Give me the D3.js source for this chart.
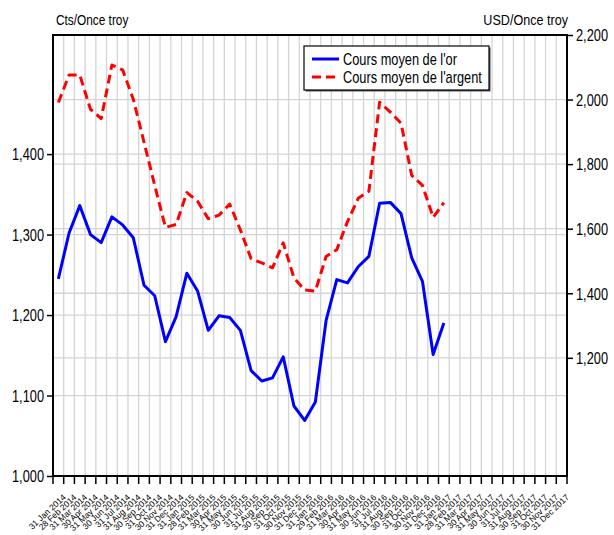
<!DOCTYPE html>
<html>
<head>
<meta charset="utf-8">
<script src="https://cdn.jsdelivr.net/npm/d3@7"></script>
<style>
  body { margin: 0; background: #fff; }
  text { font-family: "Liberation Sans", Arial, sans-serif; fill: #000; }
</style>
</head>
<body>
<script>
const months = [
  "31 Jan 2014","28 Feb 2014","31 Mar 2014","30 Apr 2014","31 May 2014","30 Jun 2014",
  "31 Jul 2014","31 Aug 2014","30 Sep 2014","31 Oct 2014","30 Nov 2014","31 Dec 2014",
  "31 Jan 2015","28 Feb 2015","31 Mar 2015","30 Apr 2015","31 May 2015","30 Jun 2015",
  "31 Jul 2015","31 Aug 2015","30 Sep 2015","31 Oct 2015","30 Nov 2015","31 Dec 2015",
  "31 Jan 2016","29 Feb 2016","31 Mar 2016","30 Apr 2016","31 May 2016","30 Jun 2016",
  "31 Jul 2016","31 Aug 2016","30 Sep 2016","31 Oct 2016","30 Nov 2016","31 Dec 2016",
  "31 Jan 2017","28 Feb 2017","31 Mar 2017","30 Apr 2017","31 May 2017","30 Jun 2017",
  "31 Jul 2017","31 Aug 2017","30 Sep 2017","31 Oct 2017","30 Nov 2017","31 Dec 2017"
];

// cours moyen de l'or (axe gauche)
const gold = [1245,1302,1336,1300,1290,1322,1312,1296,1237,1224,1167,1198,
  1252,1230,1181,1199,1197,1181,1131,1118,1122,1148,1087,1069,
  1092,1193,1244,1240,1260,1273,1339,1340,1326,1271,1242,1151,1190];

// cours moyen de l'argent (axe droit)
const silver = [1991,2076,2076,1970,1941,2107,2092,2001,1868,1734,1604,1613,
  1712,1685,1631,1642,1676,1596,1507,1494,1479,1556,1448,1410,
  1407,1514,1535,1622,1694,1716,1992,1961,1927,1765,1734,1635,1681];

const leftTicks = [1000, 1100, 1200, 1300, 1400];
const rightTicks = [1200, 1400, 1600, 1800, 2000, 2200];
const seriesNames = ["Cours moyen de l'or", "Cours moyen de l'argent"];

const dims = { w: 614, h: 535, l: 53, r: 567, t: 35, b: 476 };

const svg = d3.select("body").append("svg")
  .attr("width", dims.w)
  .attr("height", dims.h);

const x = d3.scaleBand().domain(months).range([dims.l, dims.r]).padding(0);
const yL = d3.scaleLinear().domain([1000, 1548]).range([dims.b, dims.t]);
const yR = d3.scaleLinear().domain([834, 2200]).range([dims.b, dims.t]);
const cx = m => x(m) + x.bandwidth() / 2;

// the chart text looks condensed: scale it horizontally around its anchor
function squeeze(sel, k) {
  sel.each(function () {
    const t = d3.select(this);
    const xx = +t.attr("x") || 0, yy = +t.attr("y") || 0;
    t.attr("x", 0).attr("y", 0)
      .attr("transform", `translate(${xx},${yy}) scale(${k},1)`);
  });
}

// grid
const grid = svg.append("g").attr("stroke", "#d4d4d4").attr("stroke-width", 1.3);
grid.selectAll(".vg")
  .data(months.slice(1))
  .enter().append("line")
  .attr("x1", d => x(d)).attr("x2", d => x(d))
  .attr("y1", dims.t).attr("y2", dims.b);
grid.selectAll(".hl")
  .data(leftTicks.slice(1))
  .enter().append("line")
  .attr("x1", dims.l).attr("x2", dims.r)
  .attr("y1", d => yL(d)).attr("y2", d => yL(d));
grid.selectAll(".hr")
  .data(rightTicks.slice(0, -1))
  .enter().append("line")
  .attr("x1", dims.l).attr("x2", dims.r)
  .attr("y1", d => yR(d)).attr("y2", d => yR(d));

// lines
const goldLine = d3.line().x((d, i) => cx(months[i])).y(d => yL(d));
const silverLine = d3.line().x((d, i) => cx(months[i])).y(d => yR(d));

svg.append("path")
  .datum(silver)
  .attr("d", silverLine)
  .attr("fill", "none")
  .attr("stroke", "#ff0000")
  .attr("stroke-width", 3)
  .attr("stroke-dasharray", "9,5")
  .attr("stroke-linejoin", "round");

svg.append("path")
  .datum(gold)
  .attr("d", goldLine)
  .attr("fill", "none")
  .attr("stroke", "#0000ff")
  .attr("stroke-width", 3)
  .attr("stroke-linejoin", "round");

// frame
svg.append("rect")
  .attr("x", dims.l).attr("y", dims.t)
  .attr("width", dims.r - dims.l).attr("height", dims.b - dims.t)
  .attr("fill", "none").attr("stroke", "#000").attr("stroke-width", 2);

// left axis
const axL = svg.append("g")
  .attr("transform", `translate(${dims.l},0)`)
  .call(d3.axisLeft(yL).tickValues(leftTicks).tickSize(6).tickPadding(3).tickFormat(d3.format(",")));
axL.select(".domain").remove();
axL.selectAll("line").attr("stroke", "#000").attr("stroke-width", 1.5);
axL.selectAll("text").attr("font-size", 16).attr("dy", "0.36em")
  .style("font-family", "'Liberation Sans', Arial, sans-serif").call(squeeze, 0.8);

// right axis
const axR = svg.append("g")
  .attr("transform", `translate(${dims.r},0)`)
  .call(d3.axisRight(yR).tickValues(rightTicks).tickSize(6).tickPadding(3).tickFormat(d3.format(",")));
axR.select(".domain").remove();
axR.selectAll("line").attr("stroke", "#000").attr("stroke-width", 1.5);
axR.selectAll("text").attr("font-size", 16).attr("dy", "0.36em")
  .style("font-family", "'Liberation Sans', Arial, sans-serif").call(squeeze, 0.8);

// bottom ticks at month boundaries
svg.append("g").selectAll("line")
  .data(months.concat(["end"]))
  .enter().append("line")
  .attr("x1", (d, i) => dims.l + i * x.step())
  .attr("x2", (d, i) => dims.l + i * x.step())
  .attr("y1", dims.b).attr("y2", dims.b + 8)
  .attr("stroke", "#000").attr("stroke-width", 1.5);

svg.append("g").selectAll("text")
  .data(months)
  .enter().append("text")
  .attr("text-anchor", "end")
  .attr("font-size", 8.5)
  .attr("fill", "#222")
  .attr("transform", d => `translate(${cx(d) + 8},${dims.b + 22}) rotate(-43)`)
  .text(d => d);

// axis titles
svg.append("text")
  .attr("x", 56).attr("y", 25)
  .attr("font-size", 15)
  .text("Cts/Once troy").call(squeeze, 0.79);
svg.append("text")
  .attr("x", dims.r + 1).attr("y", 25)
  .attr("text-anchor", "end")
  .attr("font-size", 15)
  .text("USD/Once troy").call(squeeze, 0.84);

// legend
const legend = svg.append("g").attr("transform", "translate(304,46)");
legend.append("rect")
  .attr("x", 1.5).attr("y", 1.5).attr("width", 185).attr("height", 44)
  .attr("fill", "#555");
legend.append("rect")
  .attr("width", 185).attr("height", 44)
  .attr("fill", "#fff").attr("stroke", "#000").attr("stroke-width", 1.2);
const items = legend.selectAll(".item")
  .data(seriesNames)
  .enter().append("g")
  .attr("transform", (d, i) => `translate(0,${13 + i * 18})`);
items.append("line")
  .attr("x1", 8).attr("x2", 35)
  .attr("stroke", (d, i) => i == 0 ? "#0000ff" : "#ff0000")
  .attr("stroke-width", 3)
  .attr("stroke-dasharray", (d, i) => i == 0 ? null : "9,5");
items.append("text")
  .attr("x", 39).attr("y", 6)
  .attr("font-size", 16)
  .text(d => d)
  .call(squeeze, 0.8);
</script>
</body>
</html>
